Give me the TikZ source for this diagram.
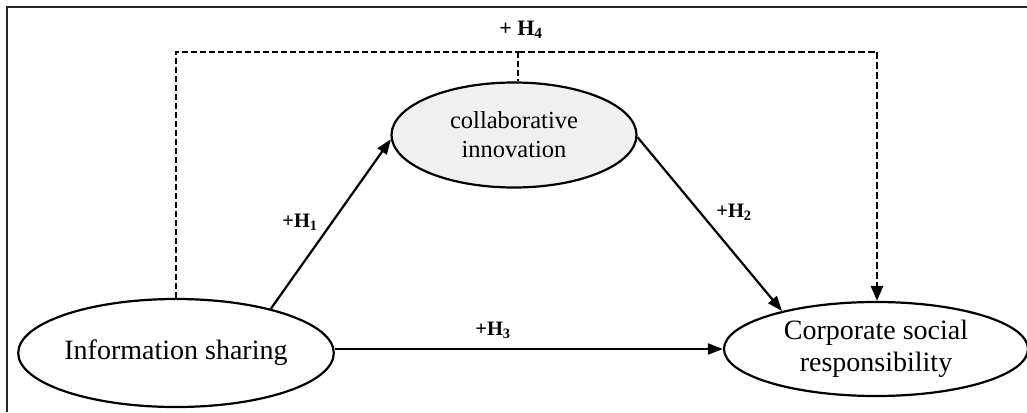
\documentclass[tikz,border=0pt]{standalone}
\usepackage{fontspec}
\setmainfont{Liberation Serif}
\usetikzlibrary{shapes.geometric,arrows.meta}
\tikzset{
  construct/.style={draw=black,line width=2.2pt,ellipse,inner sep=0pt,align=center},
  path arrow/.style={line width=2.2pt,-{Triangle[length=15pt,width=11pt]}},
  hlabel/.style={font=\fontsize{20.5}{24}\selectfont\bfseries,inner sep=0pt},
  dashthin/.style={line width=1.6pt,dash pattern=on 6pt off 3pt},
  dashthick/.style={line width=2.6pt,dash pattern=on 7pt off 3pt},
}
\begin{document}
\begin{tikzpicture}[x=1pt,y=-1pt]
\useasboundingbox (0,0) rectangle (1027,412);
% frame (cropped)
\draw[line width=2pt,black!85] (7,412) -- (7,7) -- (1027,7);
% constructs
\node[construct,minimum width=312pt,minimum height=108pt,
      font=\fontsize{28}{32}\selectfont] (is) at (176,353) {Information sharing};
\node[construct,fill=gray!12,minimum width=245pt,minimum height=105pt,
      font=\fontsize{24.5}{29}\selectfont] (ci) at (514,135) {collaborative\\innovation};
\node[construct,minimum width=304pt,minimum height=94pt,
      font=\fontsize{28}{32}\selectfont] (csr) at (876,349) {Corporate social\\responsibility};
% dashed H4 path
\coordinate (tm) at (518,52);
\coordinate (tr) at (877,52);
\draw[dashthin] (is.north) |- (tm);
\draw[dashthin] (tm) -- (tm |- ci.north);
\draw[dashthick] (tm) -- (tr);
\draw[dashthick,-{Triangle[length=15pt,width=12pt]}] (tr) -- (tr |- csr.north);
% solid paths
\draw[path arrow] (is.25) -- (ci.182);
\draw[path arrow] (ci.359) -- (csr.158);
\draw[path arrow] (is.east |- csr.west) -- (csr.west);
% labels
\node[hlabel,font=\fontsize{22}{26}\selectfont\bfseries] (h4) at (521,30) {+ H\textsubscript{4}};
\node[hlabel] (h1) at (300,222) {+H\textsubscript{1}};
\node[hlabel] (h2) at (734,212) {+H\textsubscript{2}};
\node[hlabel] (h3) at (493,330) {+H\textsubscript{3}};
\end{tikzpicture}
\end{document}
